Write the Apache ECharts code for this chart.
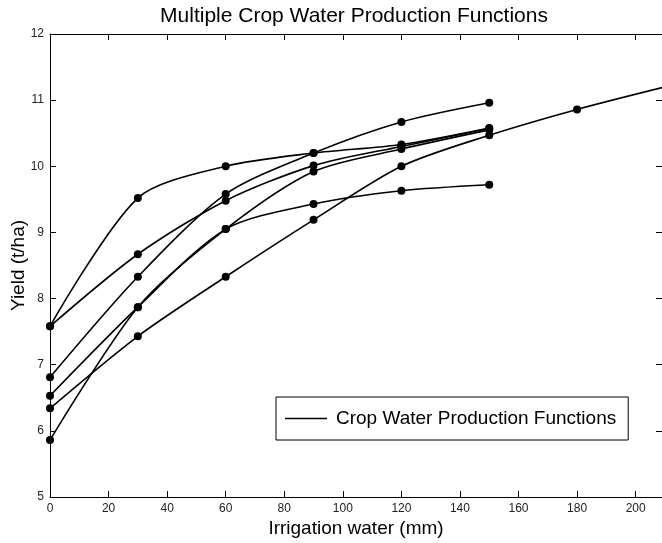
<!DOCTYPE html>
<html>
<head>
<meta charset="utf-8">
<script src="https://cdn.jsdelivr.net/npm/echarts@6/dist/echarts.min.js"></script>
<style>
html,body{margin:0;padding:0;background:#fff;}
#chart{width:662px;height:543px;}
</style>
</head>
<body>
<div id="chart"></div>
<script>
// ---- data ----
const irrigation = [0, 30, 60, 90, 120, 150];
const irrigationLong = [0, 30, 60, 90, 120, 150, 180, 210];

const yieldA = [7.58, 9.52, 10.0, 10.2, 10.33, 10.58];
const yieldB = [7.58, 8.67, 9.48, 10.01, 10.3, 10.57];
const yieldC = [6.81, 8.33, 9.58, 10.2, 10.67, 10.96];
const yieldD = [6.53, 7.87, 9.05, 9.43, 9.63, 9.72];
const yieldE = [5.86, 7.87, 9.05, 9.92, 10.26, 10.55];
const yieldF = [6.34, 7.43, 8.33, 9.19, 10.0, 10.47, 10.86, 11.2];

const seriesName = 'Crop Water Production Functions';
const titleText = 'Multiple Crop Water Production Functions';
const xName = 'Irrigation water (mm)';
const yName = 'Yield (t/ha)';

const FONT = "'Liberation Sans', Arial, Helvetica, sans-serif";

function pairs(xs, ys) { return xs.map((x, i) => [x, ys[i]]); }

const curves = [
  pairs(irrigation, yieldA),
  pairs(irrigation, yieldB),
  pairs(irrigation, yieldC),
  pairs(irrigation, yieldD),
  pairs(irrigation, yieldE),
  pairs(irrigationLong, yieldF)
];

const series = curves.map(d => ({
  name: seriesName,
  type: 'line',
  data: d,
  smooth: 0.28,
  symbol: 'circle',
  symbolSize: 8,
  showAllSymbol: true,
  clip: true,
  lineStyle: { color: '#000', width: 1.6 },
  itemStyle: { color: '#000' },
  emphasis: { disabled: true }
}));

const axisCommon = {
  axisLine: { show: true, onZero: false, lineStyle: { color: '#000', width: 1 } },
  axisTick: { show: true, inside: true, length: 6, lineStyle: { color: '#000', width: 1 } },
  splitLine: { show: false }
};

const chart = echarts.init(document.getElementById('chart'), null, { renderer: 'canvas' });
chart.setOption({
  animation: false,
  backgroundColor: '#fff',
  title: {
    text: titleText,
    left: 349,
    textAlign: 'center',
    top: 1,
    textStyle: { fontFamily: FONT, fontSize: 21, fontWeight: 'normal', color: '#000' }
  },
  grid: { left: 50, top: 34, right: 0, bottom: 46, containLabel: false, outerBoundsMode: 'none' },
  legend: {
    data: [{ name: seriesName }],
    left: 276,
    top: 397,
    icon: 'rect',
    itemWidth: 42,
    itemHeight: 1.5,
    borderColor: '#000',
    borderWidth: 1,
    backgroundColor: '#fff',
    padding: [12, 12, 12, 9],
    selectedMode: false,
    textStyle: { fontFamily: FONT, fontSize: 19, color: '#000', padding: [0, 0, 0, 4] }
  },
  xAxis: [
    Object.assign({}, axisCommon, {
      type: 'value', position: 'bottom', min: 0, max: 209, interval: 20,
      axisLabel: { margin: 6, fontFamily: FONT, fontSize: 12, color: '#222', showMaxLabel: false },
      name: xName, nameLocation: 'middle', nameGap: 22, nameMoveOverlap: false,
      nameTextStyle: { fontFamily: FONT, fontSize: 19, color: '#000' }
    }),
    Object.assign({}, axisCommon, {
      type: 'value', position: 'top', min: 0, max: 209, interval: 20,
      axisLabel: { show: false }
    })
  ],
  yAxis: [
    Object.assign({}, axisCommon, {
      type: 'value', position: 'left', min: 5, max: 12, interval: 1,
      axisLabel: { margin: 6, fontFamily: FONT, fontSize: 12, color: '#222' },
      name: yName, nameLocation: 'middle', nameGap: 22, nameRotate: 90, nameMoveOverlap: false,
      nameTextStyle: { fontFamily: FONT, fontSize: 19, color: '#000' }
    }),
    Object.assign({}, axisCommon, {
      type: 'value', position: 'right', min: 5, max: 12, interval: 1,
      axisLabel: { show: false }
    })
  ],
  series: series
});
</script>
</body>
</html>
